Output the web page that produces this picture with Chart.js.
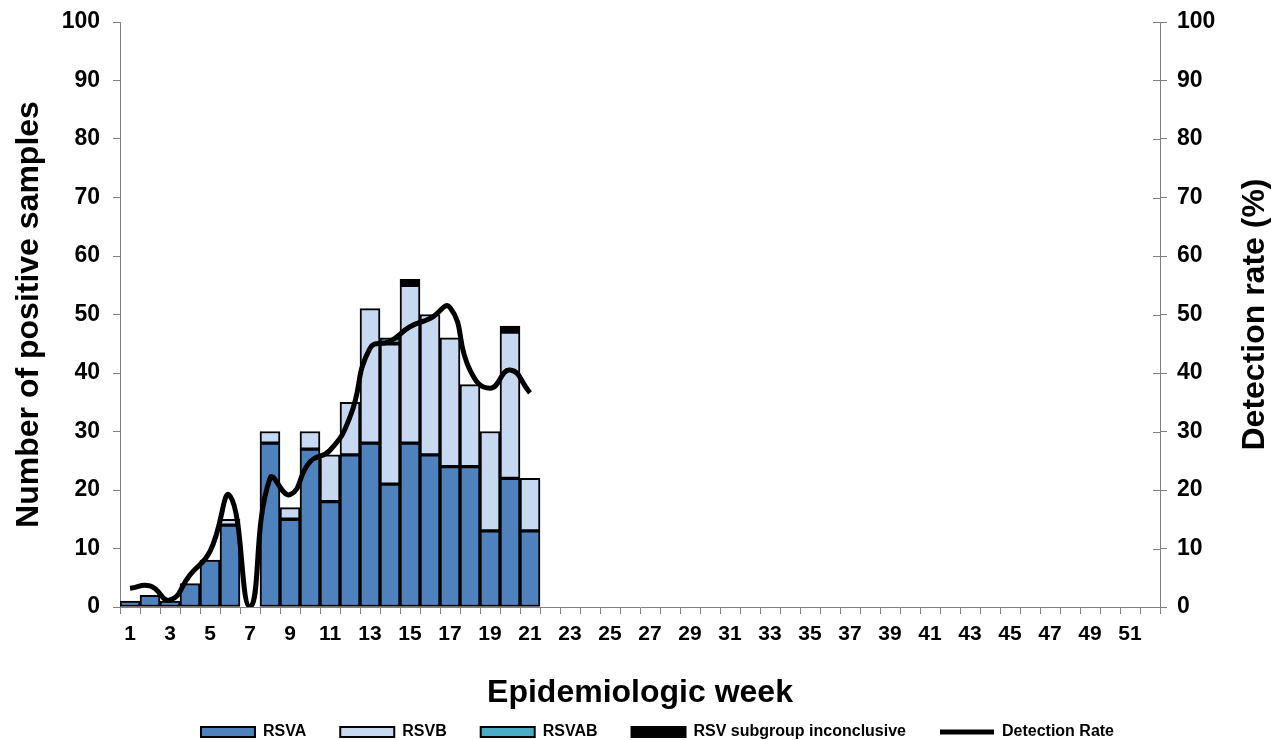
<!DOCTYPE html>
<html>
<head>
<meta charset="utf-8">
<script src="https://cdn.jsdelivr.net/npm/chart.js@4.4.1/dist/chart.umd.min.js"></script>
<style>
  html, body { margin: 0; padding: 0; background: #fff; }
  #wrap { width: 1271px; height: 740px; }
</style>
</head>
<body>
<div id="wrap"><canvas id="chart"></canvas></div>
<script>
const weeks = ["1","2","3","4","5","6","7","8","9","10","11","12","13","14","15","16","17","18","19","20",
  "21","22","23","24","25","26","27","28","29","30","31","32","33","34","35","36","37","38","39","40",
  "41","42","43","44","45","46","47","48","49","50","51","52"];

const rsvA = [1, 2, 1, 4, 8, 14, 0, 28, 15, 27, 18, 26, 28, 21, 28, 26, 24, 24, 13, 22, 13];
const rsvB = [0, 0, 0, 0, 0, 1, 0, 2, 2, 3, 8, 9, 23, 24, 27, 24, 22, 14, 17, 25, 9];
const rsvAB = [0, 0, 0, 0, 0, 0, 0, 0, 0, 0, 0, 0, 0, 1, 0, 0, 0, 0, 0, 0, 0];
const inconclusive = [0, 0, 0, 0, 0, 0, 0, 0, 0, 0, 0, 0, 0, 0, 1, 0, 0, 0, 0, 1, 0];
const detectionRate = [3.2, 3.6, 1.2, 5.5, 9.5, 19, 0, 22, 19.2, 24.8, 26.8, 32.5, 44.2, 45.4, 47.9, 49.3, 51.2, 40.5, 37.4, 40.5, 36.6];

const axisGrey = "#808080";
const FONT = "Arial, 'Liberation Sans', sans-serif";

// zero counts should not draw an empty outlined segment
const bars = arr => arr.map(v => v || null);

// fixed axis boxes so the plot area lands where the original has it
const fixY = w => s => { s.width = w; s.paddingTop = 0; s.paddingBottom = 0; };

// right hand title reads bottom-to-top like the left one, plus ticks that cross the axis
const rightAxisExtras = {
  id: "rightAxisExtras",
  afterLayout(chart) {
    // legend sits a little right of centre in the original
    chart.legend.left += 44;
  },
  afterDraw(chart) {
    const ctx = chart.ctx;
    const s = chart.scales.y1;
    ctx.save();
    ctx.strokeStyle = axisGrey;
    ctx.lineWidth = 1;
    s.ticks.forEach(t => {
      const y = Math.round(s.getPixelForValue(t.value)) + 0.5;
      ctx.beginPath();
      ctx.moveTo(s.left - 7, y);
      ctx.lineTo(s.left, y);
      ctx.stroke();
    });
    ctx.translate(s.right - 16, (s.top + s.bottom) / 2);
    ctx.rotate(-Math.PI / 2);
    ctx.fillStyle = "#000";
    ctx.font = "bold 32px " + FONT;
    ctx.textAlign = "center";
    ctx.textBaseline = "middle";
    ctx.fillText("Detection rate (%)", 0, 0);
    ctx.restore();
  }
};

new Chart(document.getElementById("chart"), {
  type: "bar",
  data: {
    labels: weeks,
    datasets: [
      { label: "RSVA", data: bars(rsvA), backgroundColor: "#4F81BD", borderColor: "#000", borderWidth: 2, borderSkipped: false, stack: "s", order: 2, pointStyle: "rect" },
      { label: "RSVB", data: bars(rsvB), backgroundColor: "#C6D9F1", borderColor: "#000", borderWidth: 2, borderSkipped: false, stack: "s", order: 2, pointStyle: "rect" },
      { label: "RSVAB", data: bars(rsvAB), backgroundColor: "#4BACC6", borderColor: "#000", borderWidth: 2, borderSkipped: false, stack: "s", order: 2, pointStyle: "rect" },
      { label: "RSV subgroup inconclusive", data: bars(inconclusive), backgroundColor: "#000", borderColor: "#000", borderWidth: 2, borderSkipped: false, stack: "s", order: 2, pointStyle: "rect" },
      {
        type: "line",
        label: "Detection Rate",
        data: detectionRate,
        yAxisID: "y1",
        borderColor: "#000",
        backgroundColor: "#000",
        borderWidth: 5,
        pointRadius: 0,
        tension: 0.5,
        fill: false,
        order: 1,
        pointStyle: "line"
      }
    ]
  },
  options: {
    responsive: true,
    maintainAspectRatio: false,
    animation: false,
    datasets: { bar: { barPercentage: 1, categoryPercentage: 1 } },
    layout: { padding: { top: 22, left: 0, right: 0, bottom: -10 } },
    plugins: {
      tooltip: { enabled: false },
      legend: {
        position: "bottom",
        labels: {
          usePointStyle: true,
          pointStyleWidth: 54,
          boxHeight: 10,
          padding: 34,
          color: "#000",
          font: { family: FONT, size: 16, weight: "bold" },
          sort: (a, b) => a.datasetIndex - b.datasetIndex
        }
      }
    },
    scales: {
      x: {
        stacked: true,
        afterFit: s => { s.height = 83; s.paddingLeft = 0; s.paddingRight = 0; },
        grid: { offset: true, drawOnChartArea: false, color: axisGrey, tickLength: 7 },
        border: { color: axisGrey },
        ticks: {
          autoSkip: false,
          maxRotation: 0,
          padding: 8,
          color: "#000",
          font: { family: FONT, size: 21, weight: "bold" },
          callback: (v, i) => (i % 2 === 0 ? weeks[i] : "")
        },
        title: {
          display: true,
          text: "Epidemiologic week",
          color: "#000",
          font: { family: FONT, size: 32, weight: "bold" },
          padding: { top: 0, bottom: -22 }
        }
      },
      y: {
        stacked: true,
        position: "left",
        min: 0,
        max: 100,
        afterFit: fixY(120),
        grid: { drawOnChartArea: false, color: axisGrey, tickLength: 7 },
        border: { color: axisGrey },
        ticks: {
          stepSize: 10,
          padding: 13,
          color: "#000",
          font: { family: FONT, size: 23, weight: "bold" }
        },
        title: {
          display: true,
          text: "Number of positive samples",
          color: "#000",
          font: { family: FONT, size: 32, weight: "bold" },
          padding: { top: 10, bottom: 0 }
        }
      },
      y1: {
        position: "right",
        min: 0,
        max: 100,
        afterFit: fixY(111),
        grid: { drawOnChartArea: false, color: axisGrey, tickLength: 7 },
        border: { color: axisGrey },
        ticks: {
          stepSize: 10,
          padding: 10,
          color: "#000",
          font: { family: FONT, size: 23, weight: "bold" }
        }
      }
    }
  },
  plugins: [rightAxisExtras]
});
</script>
</body>
</html>
